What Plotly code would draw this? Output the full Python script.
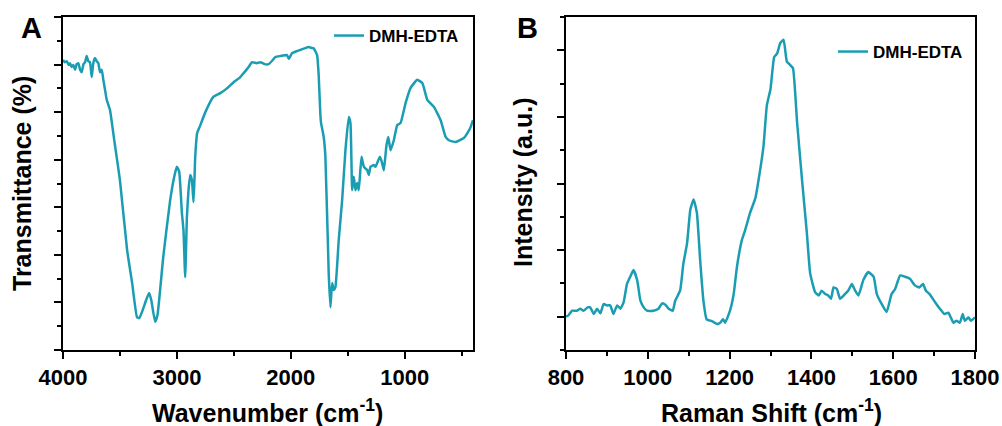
import plotly.graph_objects as go

# ---------------- Data ----------------
# FTIR (panel A): wavenumber (cm-1) and transmittance (arbitrary units)
ftir_wavenumber = [4000, 3985, 3967, 3950, 3938, 3925, 3909, 3894, 3880, 3865, 3850, 3836, 3820,
                   3806, 3792, 3778, 3763, 3748, 3734, 3719, 3704, 3690, 3675, 3660, 3646, 3631,
                   3616, 3587, 3550, 3500, 3437, 3393, 3350, 3330, 3300, 3270, 3244, 3225, 3191,
                   3170, 3120, 3059, 3020, 3000, 2980, 2956, 2942, 2927, 2912, 2898, 2883, 2868,
                   2854, 2845, 2839, 2822, 2800, 2750, 2680, 2619, 2560, 2502, 2450, 2414, 2370,
                   2340, 2300, 2267, 2230, 2194, 2160, 2135, 2090, 2033, 2018, 1989, 1950, 1916,
                   1880, 1843, 1815, 1798, 1769, 1755, 1740, 1734, 1711, 1696, 1667, 1652, 1637,
                   1622, 1608, 1579, 1549, 1520, 1491, 1476, 1461, 1447, 1432, 1417, 1403, 1379,
                   1358, 1329, 1315, 1300, 1271, 1256, 1218, 1200, 1183, 1160, 1144, 1124, 1095,
                   1065, 1036, 992, 948, 889, 845, 801, 743, 684, 640, 611, 552, 479, 444, 420,
                   406, 400]
ftir_transmittance = [61.0, 60.5, 60.7, 59.9, 60.3, 59.5, 59.9, 58.9, 60.1, 60.3, 58.9, 58.4, 60.1,
                      60.5, 61.8, 60.7, 60.5, 57.4, 60.3, 61.4, 60.7, 60.3, 58.4, 58.9, 56.8, 54.7,
                      52.6, 50.4, 44.1, 35.7, 21.0, 14.1, 6.9, 6.7, 8.4, 10.5, 12.0, 10.5, 5.9,
                      7.4, 19.5, 31.5, 36.8, 38.5, 37.5, 28.8, 25.2, 15.3, 28.0, 33.6, 36.8, 35.7,
                      31.1, 36.4, 40.6, 45.6, 46.9, 50.0, 53.2, 54.0, 55.0, 56.3, 57.2, 58.2, 59.5,
                      60.5, 60.3, 60.5, 60.1, 60.1, 60.9, 61.6, 61.8, 62.0, 61.2, 62.4, 62.8, 63.1,
                      63.4, 63.7, 63.5, 63.4, 62.0, 57.8, 49.4, 47.7, 44.8, 40.6, 16.2, 9.0, 14.1,
                      12.6, 13.2, 23.1, 31.5, 42.0, 49.0, 47.7, 33.6, 36.4, 33.6, 35.1, 33.6, 40.6,
                      38.5, 37.8, 36.8, 38.5, 38.9, 38.5, 40.6, 39.5, 37.8, 43.0, 44.8, 42.0, 44.1,
                      47.3, 47.7, 51.9, 55.1, 56.8, 56.1, 52.6, 51.1, 48.3, 44.8, 44.1, 43.7, 44.6,
                      45.8, 46.9, 47.9, 48.3]

# Raman (panel B): Raman shift (cm-1) and intensity (a.u.)
raman_shift = [800, 806, 815, 827, 835, 843, 853, 859, 868, 876, 884, 892, 900, 908, 916, 925,
               933, 941, 949, 957, 965, 974, 982, 990, 998, 1014, 1026, 1035, 1043, 1051, 1061,
               1067, 1079, 1087, 1096, 1104, 1112, 1120, 1128, 1136, 1144, 1153, 1161, 1169,
               1177, 1184, 1189, 1201, 1210, 1218, 1230, 1238, 1250, 1263, 1271, 1283, 1291,
               1300, 1309, 1316, 1324, 1332, 1340, 1348, 1355, 1365, 1377, 1389, 1397, 1409,
               1418, 1425, 1434, 1441, 1448, 1454, 1462, 1470, 1482, 1490, 1499, 1507, 1515,
               1527, 1539, 1552, 1560, 1572, 1584, 1596, 1605, 1617, 1629, 1641, 1653, 1664,
               1673, 1680, 1689, 1702, 1714, 1725, 1735, 1747, 1755, 1763, 1770, 1775, 1784,
               1790, 1800]
raman_intensity = [0.00, 0.02, 0.09, 0.09, 0.12, 0.09, 0.14, 0.14, 0.04, 0.12, 0.05, 0.19, 0.17,
                   0.17, 0.04, 0.17, 0.12, 0.22, 0.49, 0.60, 0.70, 0.55, 0.24, 0.14, 0.09, 0.09,
                   0.12, 0.20, 0.18, 0.12, 0.09, 0.24, 0.39, 0.80, 1.10, 1.61, 1.76, 1.56, 0.85,
                   0.24, -0.04, -0.06, -0.08, -0.11, -0.09, -0.04, -0.09, 0.09, 0.34, 0.75, 1.15,
                   1.30, 1.56, 1.78, 2.06, 2.57, 3.17, 3.42, 3.90, 3.95, 4.11, 4.16, 3.83, 3.78,
                   3.73, 2.92, 2.06, 1.25, 0.65, 0.37, 0.32, 0.39, 0.34, 0.32, 0.27, 0.44, 0.42,
                   0.27, 0.34, 0.39, 0.49, 0.39, 0.32, 0.55, 0.67, 0.60, 0.34, 0.19, 0.07, 0.34,
                   0.42, 0.62, 0.60, 0.57, 0.47, 0.44, 0.49, 0.39, 0.34, 0.22, 0.12, 0.04, 0.06,
                   -0.09, -0.06, -0.09, 0.04, -0.06, -0.01, -0.06, -0.01]

series_name = "DMH-EDTA"
ftir_xticks = [4000, 3000, 2000, 1000]
raman_xticks = [800, 1000, 1200, 1400, 1600, 1800]

# ---------------- Style ----------------
LINE_COLOR = "#1a9db3"
FONT = "Liberation Sans, Arial, sans-serif"
W, H = 1002, 426

fig = go.Figure()
fig.add_trace(go.Scatter(x=ftir_wavenumber, y=ftir_transmittance, mode="lines",
                         name=series_name,
                         line=dict(color=LINE_COLOR, width=2.5, shape="spline", smoothing=0.4),
                         xaxis="x", yaxis="y", legend="legend"))
fig.add_trace(go.Scatter(x=raman_shift, y=raman_intensity, mode="lines",
                         name=series_name,
                         line=dict(color=LINE_COLOR, width=2.5, shape="spline", smoothing=0.4),
                         xaxis="x2", yaxis="y2", legend="legend2"))

tickfont = dict(family=FONT, size=22, color="black", weight="bold")
common_axis = dict(showline=True, linecolor="black", linewidth=2, mirror=True,
                   ticks="outside", ticklen=7, tickwidth=2, tickcolor="black",
                   showgrid=False, zeroline=False, tickfont=tickfont, automargin=False)

yd = [(H - 350) / H, (H - 17) / H]
legend_font = dict(family=FONT, size=17, color="black", weight="bold")
fig.update_layout(
    width=W, height=H, margin=dict(l=0, r=0, t=0, b=0, autoexpand=False),
    paper_bgcolor="white", plot_bgcolor="white",
    xaxis=dict(domain=[63 / W, 473 / W], range=[4000, 400], tickvals=ftir_xticks,
               minor=dict(dtick=500, tick0=0, ticklen=4, tickwidth=2, tickcolor="black"),
               anchor="y", **common_axis),
    yaxis=dict(domain=yd, range=[0, 70], dtick=10, tick0=0, showticklabels=False,
               minor=dict(dtick=5, ticklen=4, tickwidth=2, tickcolor="black"),
               anchor="x", **common_axis),
    xaxis2=dict(domain=[566 / W, 975 / W], range=[800, 1800], tickvals=raman_xticks,
                minor=dict(dtick=100, tick0=0, ticklen=4, tickwidth=2, tickcolor="black"),
                anchor="y2", **common_axis),
    yaxis2=dict(domain=yd, range=[-0.5, 4.5], dtick=1, tick0=0, showticklabels=False,
                minor=dict(dtick=0.5, tick0=0, ticklen=4, tickwidth=2, tickcolor="black"),
                anchor="x2", **common_axis),
    legend=dict(x=464 / W, y=1 - 36 / H, xanchor="right", yanchor="middle",
                bgcolor="rgba(0,0,0,0)", font=legend_font),
    legend2=dict(x=968 / W, y=1 - 52 / H, xanchor="right", yanchor="middle",
                 bgcolor="rgba(0,0,0,0)", font=legend_font),
    showlegend=True,
)

title_font = dict(family=FONT, size=25, color="black", weight="bold")
annos = [
    dict(text="Wavenumber (cm<sup>-1</sup>)", x=267 / W, y=1 - 411 / H, textangle=0),
    dict(text="Raman Shift (cm<sup>-1</sup>)", x=771 / W, y=1 - 411 / H, textangle=0),
    dict(text="Transmittance (%)", x=22 / W, y=1 - 184 / H, textangle=-90),
    dict(text="Intensity (a.u.)", x=523 / W, y=1 - 183 / H, textangle=-90),
]
for a in annos:
    fig.add_annotation(xref="paper", yref="paper", showarrow=False, xanchor="center",
                       yanchor="middle", font=title_font, **a)

for label, px in [("A", 32), ("B", 527)]:
    fig.add_annotation(text=label, xref="paper", yref="paper", x=px / W, y=1 - 28 / H,
                       showarrow=False, xanchor="center", yanchor="middle",
                       font=dict(family=FONT, size=29, color="black", weight="bold"))

fig.write_html("out.html")
